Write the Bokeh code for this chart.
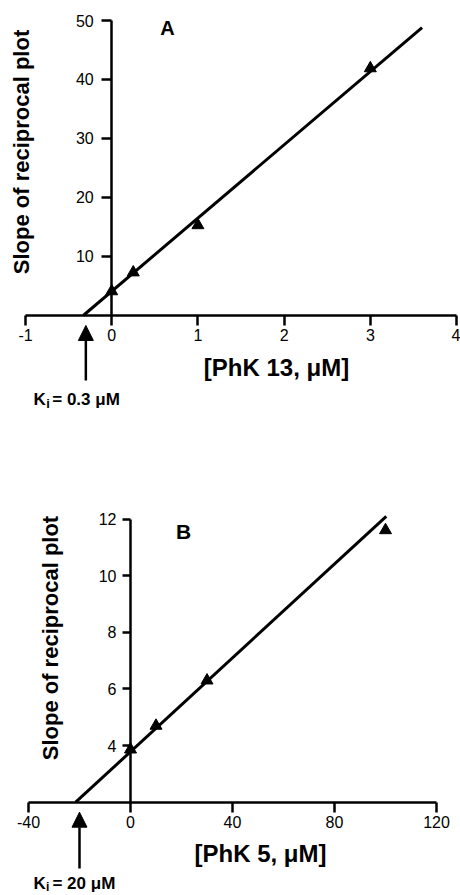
import math
from bokeh.plotting import figure
from bokeh.models import Range1d, FixedTicker, Label, Arrow, NormalHead
from bokeh.layouts import column
from bokeh.embed import file_html
from bokeh.resources import INLINE

# ---------------- data ----------------
# Panel A : PhK 13
a_conc = [0, 0.25, 1, 3]
a_slope = [4.1, 7.3, 15.3, 41.9]
a_fit_x = [-0.33, 3.6]
a_fit_y = [0.0, 48.8]
a_xticks = [-1, 0, 1, 2, 3, 4]
a_yticks = [10, 20, 30, 40, 50]
a_ki = 0.3

# Panel B : PhK 5
b_conc = [0, 10, 30, 100]
b_slope = [3.86, 4.70, 6.30, 11.61]
b_fit_x = [-21.5, 100.3]
b_fit_y = [2.0, 12.1]
b_xticks = [-40, 0, 40, 80, 120]
b_yticks = [4, 6, 8, 10, 12]
b_ki = 20

FONT = "Liberation Sans"
AXW = 2.5
FITW = 3


def style_axes(p, xticks, yticks, xb, yb, x0, ytick_out, ystandoff):
    xa = p.xaxis[0]
    ya = p.yaxis[0]
    xa.ticker = FixedTicker(ticks=xticks)
    ya.ticker = FixedTicker(ticks=yticks)
    xa.major_label_overrides = {t: str(t) for t in xticks if t < 0}
    xa.bounds = xb
    ya.bounds = yb
    xa.fixed_location = x0
    ya.fixed_location = 0
    for ax in (xa, ya):
        ax.axis_line_width = AXW
        ax.axis_line_color = "black"
        ax.major_tick_line_width = AXW
        ax.major_tick_line_color = "black"
        ax.major_tick_in = 0
        ax.minor_tick_line_color = None
        ax.major_label_text_font = FONT
        ax.major_label_text_font_size = "16px"
        ax.major_label_text_color = "black"
    xa.major_tick_out = 10
    xa.major_label_standoff = 4
    ya.major_tick_out = ytick_out
    ya.major_label_standoff = ystandoff
    p.xgrid.visible = False
    p.ygrid.visible = False
    p.outline_line_color = None
    p.background_fill_color = "white"
    p.border_fill_color = "white"


def add_text(p, x, y, text, size, angle=0.0, align="center", baseline="middle"):
    p.add_layout(Label(x=x, y=y, text=text, text_font=FONT, text_font_style="bold",
                       text_font_size=size, text_color="black", angle=angle,
                       text_align=align, text_baseline=baseline))


def make_fig(h, xr, yr):
    return figure(width=460, height=h, output_backend="svg", toolbar_location=None,
                  x_range=Range1d(*xr), y_range=Range1d(*yr),
                  min_border_left=0, min_border_right=0,
                  min_border_top=0, min_border_bottom=0)


def add_arrow(p, x, y0, y1):
    p.add_layout(Arrow(end=NormalHead(size=15, fill_color="black", line_color="black",
                                      line_width=1),
                       x_start=x, y_start=y0, x_end=x, y_end=y1,
                       line_width=AXW, line_color="black"))


# ---------------- Panel A ----------------
pa = make_fig(440, (-1.290, 4.046), (-21.19, 53.39))
style_axes(pa, a_xticks, a_yticks, (-1, 4), (0, 50), 0, 10, 8)
pa.line(a_fit_x, a_fit_y, line_width=FITW, color="black")
pa.scatter(a_conc, a_slope, marker="triangle", size=12, color="black")
add_text(pa, 0.647, 48.81, "A", "20px")
add_text(pa, -1.046, 27.71, "Slope of reciprocal plot", "22px", angle=math.pi / 2)
add_text(pa, 1.912, -8.81, "[PhK 13, \u03bcM]", "24px")
add_arrow(pa, -a_ki, -11.02, -1.69)
add_text(pa, -0.907, -14.2, "K", "17px", align="left")
add_text(pa, -0.760, -15.0, "i", "13px", align="left")
add_text(pa, -0.690, -14.2, "= 0.3 \u03bcM", "17px", align="left")

# ---------------- Panel B ----------------
pb = make_fig(455, (-50.98, 129.41), (-1.297, 14.78))
style_axes(pb, b_xticks, b_yticks, (-40, 120), (2, 12), 2, 8, 6)
pb.line(b_fit_x, b_fit_y, line_width=FITW, color="black")
pb.scatter(b_conc, b_slope, marker="triangle", size=12, color="black")
add_text(pb, 20.78, 11.57, "B", "21px")
add_text(pb, -31.37, 7.80, "Slope of reciprocal plot", "22px", angle=math.pi / 2)
add_text(pb, 50.98, 0.187, "[PhK 5, \u03bcM]", "24px")
add_arrow(pb, -b_ki, -0.343, 1.647)
add_text(pb, -38.04, -0.88, "K", "17px", align="left")
add_text(pb, -33.1, -0.99, "i", "12px", align="left")
add_text(pb, -30.6, -0.88, "= 20 \u03bcM", "17px", align="left")

layout = column(pa, pb)
open("out.html", "w").write(file_html(layout, INLINE))
